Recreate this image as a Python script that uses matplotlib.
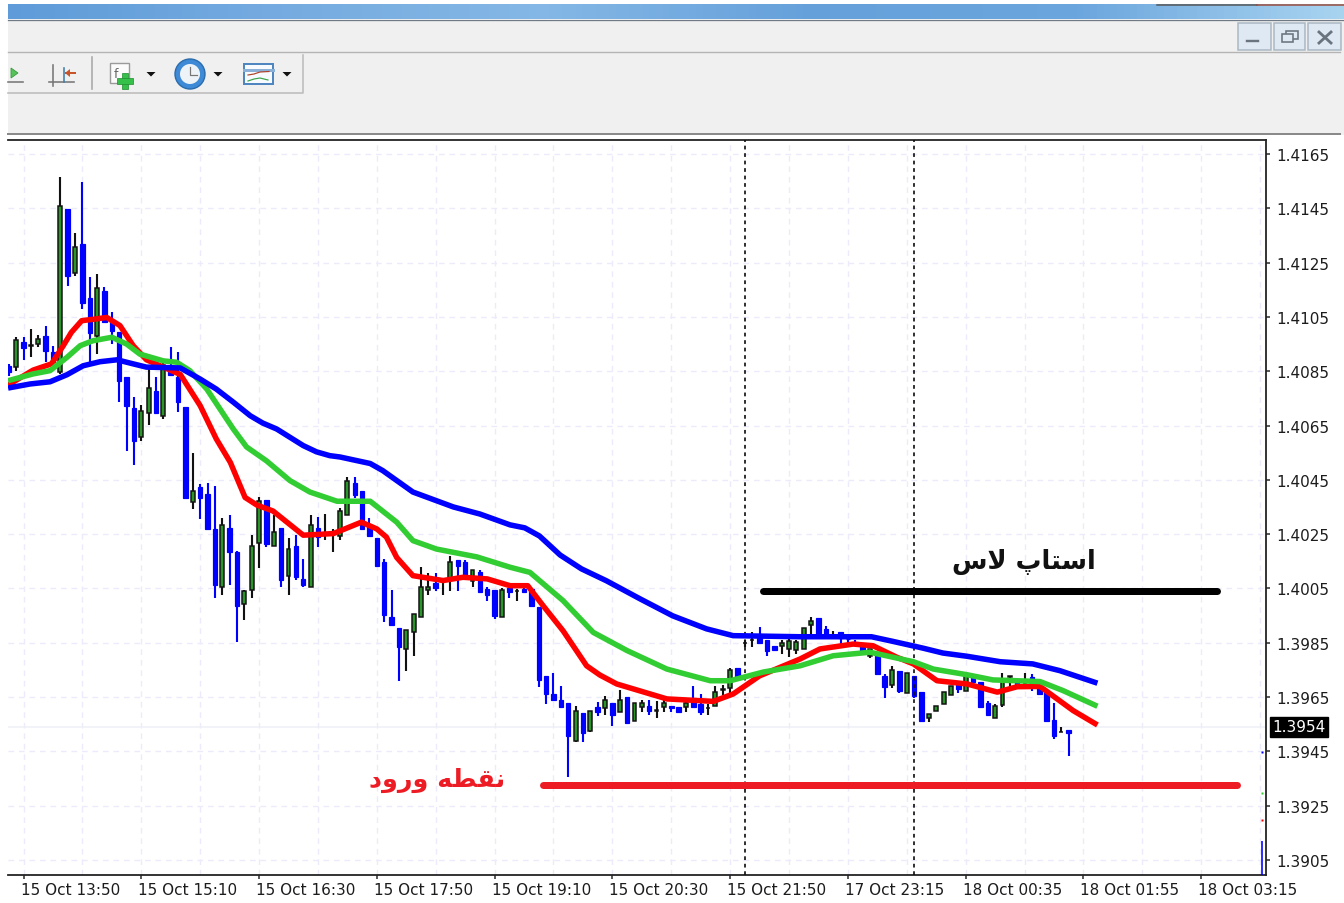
import matplotlib
matplotlib.use("Agg")
import matplotlib.pyplot as plt
import numpy as np
from matplotlib.patches import Rectangle, Circle, Polygon
from matplotlib.transforms import ScaledTranslation

# ---------- data ----------
opens = [1.40870,1.40865,1.40956,1.40943,1.40950,1.40979,1.40921,1.40847,1.41447,1.41212,1.41320,1.41118,1.40981,1.41146,1.41030,
 1.40993,1.40828,1.40716,1.40606,1.40696,1.40778,1.40686,1.40870,1.40828,1.40718,1.40367,1.40422,1.40398,1.40269,1.40056,
 1.40274,1.40183,1.39993,1.40044,1.40216,1.40376,1.40205,1.40271,1.40095,1.40207,1.40085,1.40056,1.40274,1.40251,1.40251,
 1.40243,1.40322,1.40437,1.40408,1.40281,1.40236,1.40146,1.39946,1.39905,1.39827,1.39888,1.39944,1.40044,1.40069,1.40073,
 1.40085,1.40156,1.40148,1.40078,1.40109,1.40048,1.40043,1.39944,1.40050,1.40039,1.40048,1.40048,1.39980,1.39728,1.39660,
 1.39640,1.39628,1.39489,1.39590,1.39524,1.39612,1.39608,1.39628,1.39596,1.39649,1.39563,1.39612,1.39618,1.39599,1.39613,
 1.39616,1.39613,1.39613,1.39630,1.39624,1.39608,1.39616,1.39676,1.39685,1.39756,1.39848,1.39859,1.39871,1.39859,1.39837,
 1.39838,1.39827,1.39824,1.39827,1.39916,1.39940,1.39901,1.39877,1.39888,1.39865,1.39852,1.39839,1.39802,1.39808,1.39726,
 1.39695,1.39744,1.39664,1.39728,1.39667,1.39573,1.39598,1.39624,1.39659,1.39698,1.39673,1.39723,1.39704,1.39628,1.39573,
 1.39621,1.39724,1.39707,1.39697,1.39724,1.39682,1.39670,1.39566,1.39520,1.39527]
highs = [1.40877,1.40977,1.40977,1.41005,1.40984,1.41018,1.40944,1.41564,1.41447,1.41358,1.41548,1.41196,1.41207,1.41159,1.41067,
 1.40994,1.40828,1.40754,1.40727,1.40858,1.40829,1.40889,1.40940,1.40921,1.40718,1.40549,1.40434,1.40437,1.40426,1.40308,
 1.40320,1.40187,1.40044,1.40246,1.40388,1.40376,1.40320,1.40271,1.40236,1.40246,1.40158,1.40320,1.40313,1.40324,1.40267,
 1.40345,1.40459,1.40459,1.40408,1.40308,1.40236,1.40158,1.40045,1.39905,1.39898,1.39955,1.40130,1.40106,1.40107,1.40087,
 1.40168,1.40156,1.40156,1.40118,1.40119,1.40055,1.40043,1.40050,1.40050,1.40048,1.40066,1.40048,1.39980,1.39728,1.39738,
 1.39690,1.39628,1.39616,1.39590,1.39600,1.39630,1.39653,1.39628,1.39677,1.39649,1.39628,1.39639,1.39639,1.39636,1.39639,
 1.39616,1.39613,1.39636,1.39690,1.39660,1.39624,1.39690,1.39695,1.39757,1.39756,1.39861,1.39888,1.39908,1.39859,1.39837,
 1.39860,1.39864,1.39861,1.39905,1.39946,1.39940,1.39912,1.39892,1.39888,1.39878,1.39861,1.39845,1.39827,1.39808,1.39735,
 1.39765,1.39744,1.39738,1.39728,1.39667,1.39586,1.39616,1.39667,1.39690,1.39698,1.39735,1.39723,1.39704,1.39636,1.39624,
 1.39738,1.39726,1.39721,1.39738,1.39735,1.39707,1.39670,1.39628,1.39539,1.39527]
lows = [1.40832,1.40851,1.40892,1.40902,1.40938,1.40885,1.40877,1.40840,1.41163,1.41202,1.41079,1.40883,1.40913,1.41030,1.40950,
 1.40736,1.40557,1.40505,1.40594,1.40652,1.40696,1.40674,1.40832,1.40701,1.40383,1.40342,1.40306,1.40270,1.40015,1.40026,
 1.40064,1.39852,1.39935,1.40014,1.40125,1.40203,1.40205,1.40054,1.40026,1.40081,1.40054,1.40056,1.40203,1.40228,1.40183,
 1.40228,1.40322,1.40383,1.40269,1.40243,1.40134,1.39925,1.39915,1.39709,1.39746,1.39802,1.39944,1.40026,1.40042,1.40026,
 1.40042,1.40042,1.40091,1.40055,1.40038,1.40005,1.39937,1.39944,1.40014,1.40005,1.40038,1.39986,1.39687,1.39624,1.39640,
 1.39612,1.39357,1.39483,1.39483,1.39520,1.39581,1.39584,1.39544,1.39594,1.39556,1.39563,1.39594,1.39584,1.39574,1.39596,
 1.39596,1.39596,1.39596,1.39608,1.39584,1.39584,1.39616,1.39657,1.39665,1.39720,1.39833,1.39833,1.39849,1.39802,1.39824,
 1.39808,1.39797,1.39808,1.39827,1.39876,1.39875,1.39871,1.39867,1.39845,1.39845,1.39839,1.39814,1.39795,1.39735,1.39646,
 1.39685,1.39664,1.39664,1.39646,1.39563,1.39558,1.39598,1.39624,1.39659,1.39664,1.39673,1.39704,1.39612,1.39584,1.39573,
 1.39613,1.39687,1.39692,1.39680,1.39673,1.39661,1.39560,1.39496,1.39520,1.39434]
closes = [1.40847,1.40966,1.40934,1.40945,1.40968,1.40923,1.40884,1.41457,1.41202,1.41306,1.41101,1.40991,1.41155,1.41032,1.40999,
 1.40813,1.40723,1.40594,1.40704,1.40787,1.40696,1.40873,1.40836,1.40735,1.40383,1.40408,1.40383,1.40270,1.40064,1.40285,
 1.40183,1.39986,1.40042,1.40207,1.40371,1.40213,1.40257,1.40081,1.40195,1.40091,1.40064,1.40285,1.40238,1.40253,1.40253,
 1.40335,1.40447,1.40395,1.40269,1.40243,1.40134,1.39953,1.39915,1.39835,1.39898,1.39955,1.40054,1.40054,1.40052,1.40075,
 1.40146,1.40132,1.40091,1.40118,1.40038,1.40026,1.39950,1.40045,1.40036,1.40041,1.40038,1.39986,1.39714,1.39660,1.39640,
 1.39612,1.39508,1.39600,1.39517,1.39600,1.39594,1.39639,1.39584,1.39639,1.39556,1.39628,1.39628,1.39600,1.39601,1.39628,
 1.39608,1.39596,1.39628,1.39612,1.39594,1.39610,1.39667,1.39678,1.39751,1.39720,1.39850,1.39861,1.39849,1.39821,1.39824,
 1.39849,1.39857,1.39851,1.39905,1.39929,1.39875,1.39882,1.39879,1.39866,1.39863,1.39845,1.39821,1.39827,1.39735,1.39686,
 1.39749,1.39673,1.39738,1.39655,1.39563,1.39586,1.39616,1.39667,1.39690,1.39680,1.39728,1.39704,1.39612,1.39584,1.39616,
 1.39709,1.39726,1.39692,1.39699,1.39687,1.39661,1.39560,1.39505,1.39522,1.39518]

blue_bar = [-0.1,2.9,5.6,7.9,10.1,12.4,14.7,16.9,18.7,23.3,26,28.2,30.5,32.8,34.5,36.4,40,41.8,43.6,45,49.1,50.8,54.9,60.4,64,68.1,70.1,72.1,74.9,77.8,81.2,85.8,90.2,94.8,98.4,107.5,117.2,120.1,124.2,126.9,130.2,134.7,139.1,142.8,147.9]
blue_val = [1.40788,1.40803,1.40811,1.40837,1.40870,1.40885,1.40892,1.40877,1.40865,1.40862,1.40821,1.40784,1.40736,1.40686,1.40659,1.40637,1.40576,1.40553,1.40539,1.40534,1.40510,1.40484,1.40405,1.40350,1.40324,1.40284,1.40273,1.40243,1.40173,1.40122,1.40078,1.40011,1.39949,1.39901,1.39876,1.39872,1.39872,1.39855,1.39830,1.39812,1.39800,1.39780,1.39772,1.39747,1.39701]
green_bar = [-0.1,3.3,5.6,7.9,9.7,11.4,14,16,17.8,21,22.8,24.6,26.9,30.5,32.3,35,38.2,40.9,44.6,49.1,52.7,54.9,58.1,63.6,68.1,70.8,75.3,79.4,84,89.4,95.3,98,102.5,107.5,112,117,122.9,125.6,130.2,133.7,140.1,143.2,147.9]
green_val = [1.40815,1.40840,1.40852,1.40901,1.40944,1.40962,1.40975,1.40950,1.40913,1.40888,1.40883,1.40852,1.40784,1.40637,1.40571,1.40520,1.40447,1.40405,1.40371,1.40371,1.40294,1.40226,1.40195,1.40166,1.40128,1.40109,1.40005,1.39888,1.39821,1.39753,1.39710,1.39710,1.39742,1.39765,1.39802,1.39815,1.39780,1.39753,1.39732,1.39713,1.39707,1.39674,1.39616]
red_bar = [-0.1,3.3,5.8,7.4,8.5,9.9,11.7,13.3,15.1,16.9,18.7,23.3,26,28.2,30.1,32.1,33.7,35.9,40,44.1,47.9,50,51.3,52.7,54.9,59,61.7,65,68.1,70.5,72.6,75.3,78.5,80.3,82.6,89.4,95.7,98.4,102,107.5,110.2,114.7,117.4,120.6,122.9,126.1,130.2,134.3,137,140.1,144.6,147.9]
red_val = [1.40799,1.40854,1.40877,1.40944,1.40993,1.41036,1.41042,1.41048,1.41018,1.40944,1.40892,1.40838,1.40723,1.40600,1.40514,1.40385,1.40357,1.40335,1.40246,1.40252,1.40294,1.40269,1.40239,1.40164,1.40097,1.40079,1.40091,1.40085,1.40060,1.40060,1.39986,1.39894,1.39765,1.39731,1.39698,1.39643,1.39634,1.39661,1.39728,1.39790,1.39827,1.39845,1.39839,1.39797,1.39772,1.39710,1.39698,1.39668,1.39688,1.39689,1.39600,1.39547]

price_ticks = [1.4165,1.4145,1.4125,1.4105,1.4085,1.4065,1.4045,1.4025,1.4005,1.3985,1.3965,1.3945,1.3925,1.3905]
time_labels = ["15 Oct 13:50","15 Oct 15:10","15 Oct 16:30","15 Oct 17:50","15 Oct 19:10","15 Oct 20:30",
               "15 Oct 21:50","17 Oct 23:15","18 Oct 00:35","18 Oct 01:55","18 Oct 03:15"]
time_label_bars = [2,18,34,50,66,82,98,114,130,146,162]
grid_bars = list(range(2,171,8))
session_bars = [100,123]
last_price = 1.3954
stop_level, stop_from, stop_to = 1.40042, 102.5, 164.2
entry_level, entry_from, entry_to = 1.39326, 72.6, 166.9
stop_text = "\ufeb1\ufefb \ufb56\ufe8e\ufe98\ufeb3\ufe8d"       # استاپ لاس (shaped, visual order)
entry_text = "\ufea9\ufeed\ufead\ufeed \ufeea\ufec4\ufed8\ufee7"  # نقطه ورود (shaped, visual order)
stray_bar, stray_high, stray_low = 170.3, 1.39121, 1.38995
end_dots = [(1.39448,'#0000ff'),(1.39297,'#32cd32'),(1.39198,'#ff0000')]

W, H = 1344, 904
fig = plt.figure(figsize=(W/100, H/100), dpi=100, facecolor='white')
px = 0.72  # points per pixel

# ---------- window chrome ----------
bg = fig.add_axes([0,0,1,1], zorder=0)
bg.set_xlim(0,W); bg.set_ylim(H,0); bg.axis('off')
bg.add_patch(Rectangle((8,21),W-8,115,fc='#f0f0f0',ec='none'))
stops = np.array([[0.37,0.61,0.85],[0.46,0.67,0.88],[0.52,0.72,0.90],[0.40,0.63,0.86],[0.42,0.65,0.87],[0.66,0.83,0.94]])
grad = np.array([np.interp(np.linspace(0,1,200),np.linspace(0,1,6),stops[:,k]) for k in range(3)]).T[None,:,:]
bg.imshow(grad,extent=(8,W,20,5),aspect='auto',zorder=1)
bg.set_xlim(0,W); bg.set_ylim(H,0)
bg.plot([8,W],[21,21],color='#6f7a86',lw=1.3*px,zorder=2)
bg.plot([1157,1257],[5.5,5.5],color='#555555',lw=1.5*px,zorder=2)
bg.plot([1257,W],[5.5,5.5],color='#9b4a3a',lw=1.5*px,zorder=2)
bg.plot([8,W-4],[53,53],color='#b4b4b4',lw=1.4*px,zorder=2)
bg.plot([8,303,303],[94,94,56],color='#bcbcbc',lw=1.6*px,zorder=2)
bg.plot([91.5,91.5],[58,90],color='#a8a8a8',lw=1.6*px,zorder=2)
bg.plot([8,W-4],[135,135],color='#8a8a8a',lw=2*px,zorder=2)
for x0,x1 in [(1238,1271),(1274,1305),(1308,1341)]:
    bg.add_patch(Rectangle((x0,24),x1-x0,27,fc='#dfe9f3',ec='#a9b7c4',lw=1.5*px,zorder=2))
bg.plot([1247,1258],[42,42],color='#69747f',lw=2.4*px,zorder=3)
bg.add_patch(Rectangle((1286,32),12,8,fc='none',ec='#69747f',lw=1.6*px,zorder=3))
bg.add_patch(Rectangle((1282,35),11,8,fc='#dfe9f3',ec='#69747f',lw=1.6*px,zorder=4))
bg.plot([1319,1331],[33,44],color='#69747f',lw=2.8*px,zorder=3)
bg.plot([1319,1331],[44,33],color='#69747f',lw=2.8*px,zorder=3)
# toolbar icons
bg.plot([8,23],[83,83],color='#777777',lw=1.6*px,zorder=3)
bg.add_patch(Polygon([(11,69),(11,79),(18,74)],fc='#58c25a',ec='#3a9a3c',lw=0.6,zorder=3))
bg.plot([49,74],[83,83],color='#777777',lw=1.6*px,zorder=3)
bg.plot([53,53],[66,87],color='#777777',lw=1.6*px,zorder=3)
bg.plot([64,64],[69,83],color='#3f7fb0',lw=1.6*px,zorder=3)
bg.plot([66,75],[74,74],color='#c8552a',lw=2*px,zorder=3)
bg.add_patch(Polygon([(65,74),(70,70),(70,78)],fc='#c8552a',ec='none',zorder=3))
bg.add_patch(Rectangle((110,64),19,20,fc='#fbfbfb',ec='#9a9a9a',lw=1.4*px,zorder=3))
bg.text(116,74,'f',fontsize=9,color='#666666',ha='center',va='center',zorder=4)
bg.add_patch(Rectangle((122,74),6,16,fc='#35c04a',ec='#1f8a30',lw=0.5,zorder=4))
bg.add_patch(Rectangle((117,79),16,6,fc='#35c04a',ec='#1f8a30',lw=0.5,zorder=4))
bg.add_patch(Circle((190,75),15,fc='#3f8ad6',ec='#2a6cad',lw=1,zorder=3))
bg.add_patch(Circle((190,75),10,fc='#eef3f7',ec='none',zorder=4))
bg.plot([190,190,197],[68,76,76],color='#777777',lw=1.2*px,zorder=5)
bg.add_patch(Rectangle((244,65),29,20,fc='#f7fbff',ec='#4f86c0',lw=2*px,zorder=3))
bg.plot([244,273],[71,71],color='#8ab0d8',lw=3*px,zorder=4)
bg.plot([248,254,260,269],[76,75,73,72.5],color='#b0442a',lw=1.2*px,zorder=4)
bg.plot([248,254,260,268],[82,80,79,81],color='#3da34a',lw=1.2*px,zorder=4)
for cx in (151,218,287):
    bg.add_patch(Polygon([(cx-4.5,73),(cx+4.5,73),(cx,77.5)],fc='#111111',ec='none',zorder=4))

# ---------- chart ----------
left, right, top, bottom = 8, 1266, 141, 876
ax = fig.add_axes([left/W, 1-bottom/H, (right-left)/W, (bottom-top)/H], zorder=2)
ax.set_xlim(-0.11,170.8)
ax.set_ylim(1.389945,1.417015)
ax.set_facecolor('white')

for s in ('top','right','bottom'):
    ax.spines[s].set_color('#222222'); ax.spines[s].set_linewidth(1.8*px)
ax.spines['left'].set_visible(False)

ax.set_yticks(price_ticks); ax.set_yticklabels([f"{p:.4f}" for p in price_ticks])
ax.yaxis.tick_right()
ax.set_xticks(time_label_bars); ax.set_xticklabels(time_labels, ha='left')
ax.tick_params(axis='y',length=4*px,width=1.6*px,color='#333333',labelsize=11,labelcolor='#1c1c1c',pad=4.6)
ax.tick_params(axis='x',length=4*px,width=1.6*px,color='#333333',labelsize=11,labelcolor='#1c1c1c',pad=2.5)
off = ScaledTranslation(-3/100,0,fig.dpi_scale_trans)
for t in ax.get_xticklabels():
    t.set_transform(t.get_transform()+off)

for p in price_ticks:
    ax.axhline(p,color='#ebebfb',lw=1.4*px,ls=(0,(4,3.5)),zorder=1)
for b in grid_bars:
    ax.axvline(b,color='#ebebfb',lw=1.4*px,ls=(0,(4,3.5)),zorder=1)
ax.axhline(last_price,color='#eeeef8',lw=1.5*px,zorder=1)

bars = np.arange(len(opens))
o,h,l,c = map(np.array,(opens,highs,lows,closes))
up = c>=o
ax.vlines(bars[up],l[up],h[up],color='#111111',lw=2.1*px,zorder=3)
ax.vlines(bars[~up],l[~up],h[~up],color='#0000ff',lw=2.1*px,zorder=3)
ax.bar(bars[up],(c-o)[up],bottom=o[up],width=3.9/7.36,facecolor='#2a962a',edgecolor='#111111',linewidth=1.5*px,zorder=3.2)
ax.bar(bars[~up],(o-c)[~up],bottom=c[~up],width=4.5/7.36,facecolor='#0000ff',edgecolor='#0000ff',linewidth=1.2*px,zorder=3.2)

for b in session_bars:
    ax.axvline(b,color='#111111',lw=1.7*px,ls=(0,(2.2,2.2)),zorder=4)

ax.plot(red_bar,red_val,color='#ff0000',lw=5.5*px,solid_joinstyle='round',solid_capstyle='butt',zorder=5)
ax.plot(green_bar,green_val,color='#32cd32',lw=5.5*px,solid_joinstyle='round',solid_capstyle='butt',zorder=5.1)
ax.plot(blue_bar,blue_val,color='#0000ff',lw=5.5*px,solid_joinstyle='round',solid_capstyle='butt',zorder=5.2)

ax.plot([stop_from,stop_to],[stop_level,stop_level],color='#000000',lw=7*px,solid_capstyle='round',zorder=6)
ax.plot([entry_from,entry_to],[entry_level,entry_level],color='#ed1c24',lw=7*px,solid_capstyle='round',zorder=6)

ax.vlines([stray_bar],[stray_low],[stray_high],color='#0000ff',lw=1.6*px,zorder=3)
for val,col in end_dots:
    ax.plot([stray_bar],[val],'s',ms=1.6,color=col,mec='none',zorder=3)

ax.text(137.9,1.40152,stop_text,color='#111111',fontsize=18.5,fontweight='bold',ha='center',va='center',
        family='DejaVu Sans',zorder=7)
ax.text(58.2,1.39345,entry_text,color='#ed1c24',fontsize=18.3,fontweight='bold',ha='center',va='center',
        family='DejaVu Sans',zorder=7)

# current price box
ax.annotate(f"{last_price:.4f}",xy=(1,last_price),xycoords=('axes fraction','data'),xytext=(4.6,0),
            textcoords='offset points',ha='left',va='center',fontsize=11,color='white',
            bbox=dict(boxstyle='square,pad=0.16',fc='black',ec='black'),zorder=8,annotation_clip=False)

fig.savefig('out.png',dpi=100,facecolor='white')
